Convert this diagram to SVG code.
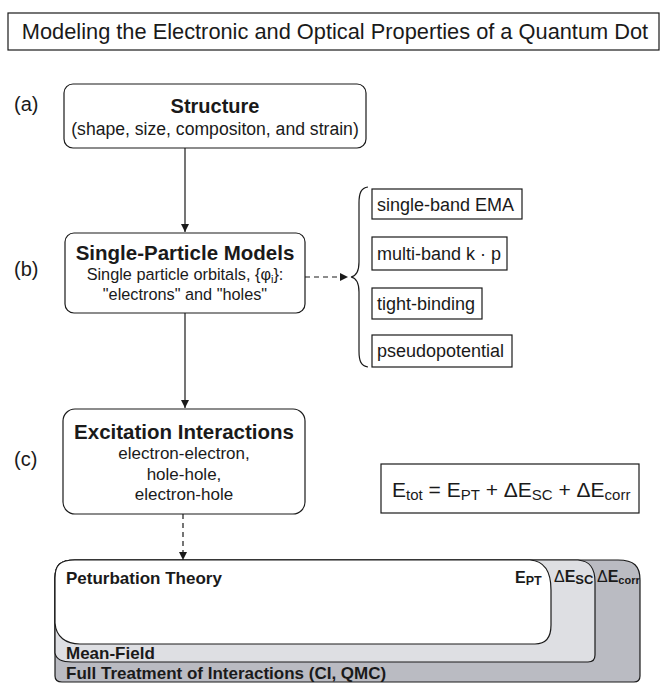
<svg xmlns="http://www.w3.org/2000/svg" width="667" height="683" viewBox="0 0 667 683">
<defs>
<style>
text{font-family:"Liberation Sans",Arial,Helvetica,sans-serif;fill:#1a1a1a}
.node{fill:#fff;stroke:#1a1a1a;stroke-width:1.2}
.box{fill:#fff;stroke:#1a1a1a;stroke-width:1.2}
.t{font-weight:bold;text-anchor:middle}
.s{text-anchor:middle;font-size:17px}
.lab{font-size:20px}
.opt{font-size:18px}
.conn{stroke:#1a1a1a;stroke-width:1.2;fill:none}
.dash{stroke-dasharray:5,4}
.b{font-weight:bold}
</style>
<marker id="ah" viewBox="0 0 10 10" refX="10" refY="5" markerWidth="8" markerHeight="8" markerUnits="userSpaceOnUse" orient="auto">
<path d="M0,0 L10,5 L0,10 Z" fill="#1a1a1a"/>
</marker>
</defs>

<g id="title">
<rect x="8" y="13" width="651" height="37" class="box"/>
<text x="335" y="39" font-size="21.8" text-anchor="middle">Modeling the Electronic and Optical Properties of a Quantum Dot</text>
</g>

<g id="labels">
<text x="14" y="111" class="lab">(a)</text>
<text x="14" y="276" class="lab">(b)</text>
<text x="14" y="466" class="lab">(c)</text>
</g>

<g id="connectors">
<line x1="185" y1="148" x2="185" y2="232" class="conn" marker-end="url(#ah)"/>
<line x1="185" y1="313" x2="185" y2="408" class="conn" marker-end="url(#ah)"/>
<line x1="183" y1="514" x2="183" y2="560" class="conn dash" marker-end="url(#ah)"/>
<line x1="305" y1="277" x2="348" y2="277" class="conn dash" marker-end="url(#ah)"/>
<path d="M368,187 C361,188 359,193 359,203 L359,262 C359,272 356,276 351,277 C356,278 359,282 359,292 L359,351 C359,361 361,366 368,367" class="conn"/>
</g>

<g id="structure">
<rect x="64" y="84" width="302" height="64" rx="9" class="node"/>
<text x="215" y="113" class="t" font-size="20">Structure</text>
<text x="215" y="135" class="s" style="font-size:17.6px">(shape, size, compositon, and strain)</text>
</g>

<g id="single-particle">
<rect x="65" y="233" width="240" height="80" rx="9" class="node"/>
<text x="185" y="260" class="t" font-size="20.5">Single-Particle Models</text>
<text x="185" y="280" class="s" style="font-size:16.3px">Single particle orbitals, {φ<tspan font-size="11" dy="3">i</tspan><tspan dy="-3">}:</tspan></text>
<text x="185" y="300" class="s" style="font-size:16.3px">"electrons" and "holes"</text>
</g>

<g id="opt-ema">
<rect x="372" y="189" width="150" height="30" class="box"/>
<text x="377" y="211" class="opt">single-band EMA</text>
</g>
<g id="opt-kp">
<rect x="372" y="237" width="135" height="33" class="box"/>
<text x="377" y="260" class="opt">multi-band k · p</text>
</g>
<g id="opt-tb">
<rect x="372" y="288" width="110" height="31" class="box"/>
<text x="377" y="310" class="opt">tight-binding</text>
</g>
<g id="opt-pp">
<rect x="372" y="335" width="140" height="32" class="box"/>
<text x="377" y="357" class="opt">pseudopotential</text>
</g>

<g id="excitation">
<rect x="63" y="409" width="242" height="105" rx="12" class="node"/>
<text x="184" y="439" class="t" font-size="20.5">Excitation Interactions</text>
<text x="184" y="459" class="s">electron-electron,</text>
<text x="184" y="480" class="s">hole-hole,</text>
<text x="184" y="500" class="s">electron-hole</text>
</g>

<g id="equation">
<rect x="381" y="464" width="258" height="49" class="box"/>
<text x="392" y="497" font-size="21">E<tspan font-size="15" dy="3">tot</tspan><tspan dy="-3"> = E</tspan><tspan font-size="15" dy="3">PT</tspan><tspan dy="-3"> + ΔE</tspan><tspan font-size="15" dy="3">SC</tspan><tspan dy="-3"> + ΔE</tspan><tspan font-size="15" dy="3">corr</tspan></text>
</g>

<g id="energy-levels">
<path d="M55,578 C55,565 60,560 75,560 L618,560 C634,560 640,566 640,580 L640,676 C640,680 638,682 634,682 L62,682 C57,682 55,680 55,676 Z" fill="#babbc2" stroke="#1a1a1a" stroke-width="1.2"/>
<path d="M55,578 C55,565 60,560 75,560 L578,560 C590,561 595,568 595,582 L595,655 C595,660 592,662 588,662 L72,662 C62,662 56,659 55,653 Z" fill="#dedfe3" stroke="#1a1a1a" stroke-width="1.2"/>
<path d="M55,578 C55,565 60,560 75,560 L530,560 C545,561 551,572 551,590 L551,625 C551,637 546,644 535,644 L80,644 C66,644 56,637 55,623 Z" fill="#fff" stroke="#1a1a1a" stroke-width="1.2"/>
<text x="66" y="584" class="b" font-size="17">Peturbation Theory</text>
<text x="66" y="659" class="b" font-size="17">Mean-Field</text>
<text x="66" y="679" class="b" font-size="17">Full Treatment of Interactions (CI, QMC)</text>
<text x="515" y="583" class="b" font-size="16">E<tspan font-size="12.5" dy="2">PT</tspan></text>
<text x="554" y="582" font-size="16"><tspan font-weight="normal">Δ</tspan><tspan font-weight="bold">E</tspan><tspan font-weight="bold" font-size="13" dy="2">SC</tspan></text>
<text x="597" y="582" font-size="16"><tspan font-weight="normal">Δ</tspan><tspan font-weight="bold">E</tspan><tspan font-weight="bold" font-size="11" dy="2">corr</tspan></text>
</g>
</svg>
